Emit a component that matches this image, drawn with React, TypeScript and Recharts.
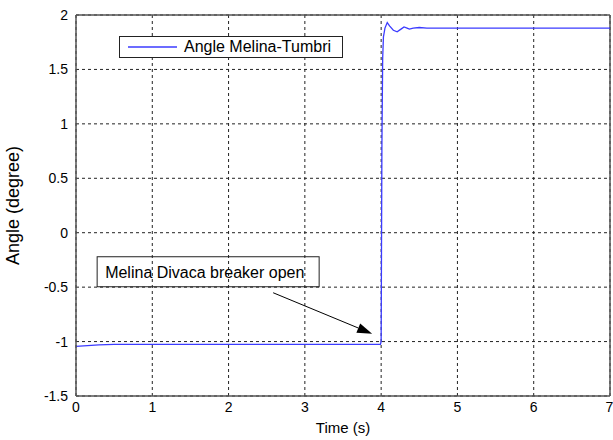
import { LineChart, Line, XAxis, YAxis, CartesianGrid, ReferenceLine, ReferenceDot, Label } from "recharts"

// time (s) and rotor angle (degree)
const TIME = [
  0, 0.1, 0.2, 0.3, 0.5, 1, 2, 3, 3.99, 4.0, 4.01, 4.02, 4.03, 4.05, 4.08, 4.11, 4.16, 4.21, 4.26, 4.3, 4.34,
  4.37, 4.42, 4.5, 4.6, 5, 6, 7,
]
const ANGLE = [
  -1.045, -1.04, -1.035, -1.03, -1.025, -1.025, -1.025, -1.025, -1.025, -1.0, 0.8, 1.6, 1.8, 1.88, 1.93, 1.9,
  1.86, 1.845, 1.87, 1.89, 1.88, 1.87, 1.88, 1.885, 1.88, 1.88, 1.88, 1.88,
]
const X_TICKS = [0, 1, 2, 3, 4, 5, 6, 7]
const Y_TICKS = [-1.5, -1, -0.5, 0, 0.5, 1, 1.5, 2]
const SERIES_NAME = "Angle Melina-Tumbri"
const NOTE = "Melina Divaca breaker open"
const BREAKER_T = 4
const BREAKER_ANGLE = -1.02

const data = TIME.map((t, i) => ({ t, angle: ANGLE[i] }))

const FONT = "'Liberation Sans', Arial, Helvetica, sans-serif"
const BLUE = "#3b3bff"
const FRAME = "#555"

function BreakerNote(p: any) {
  const { cx, cy } = p
  const x1 = cx - 108
  const y1 = cy - 51
  const x2 = cx - 9
  const y2 = cy - 10
  const a = Math.atan2(y2 - y1, x2 - x1)
  const len = 15
  const hw = 5
  const bx = x2 - len * Math.cos(a)
  const by = y2 - len * Math.sin(a)
  const pts = [
    `${x2},${y2}`,
    `${bx + hw * Math.sin(a)},${by - hw * Math.cos(a)}`,
    `${bx - hw * Math.sin(a)},${by + hw * Math.cos(a)}`,
  ].join(" ")
  return (
    <g>
      <rect x={cx - 284} y={cy - 87} width={222} height={30} fill="none" stroke="#222" strokeWidth={1} />
      <text x={cx - 276} y={cy - 66} fontSize={16} fill="#000" fontFamily={FONT}>
        {NOTE}
      </text>
      <line x1={x1} y1={y1} x2={bx} y2={by} stroke="#000" strokeWidth={1} />
      <polygon points={pts} fill="#000" />
    </g>
  )
}

export default function App() {
  return (
    <div
      style={{
        position: "fixed",
        left: 0,
        top: 0,
        width: 613,
        height: 440,
        background: "#fff",
        fontFamily: FONT,
      }}
    >
      <LineChart width={613} height={440} data={data} margin={{ top: 15, right: 3, left: 0, bottom: 0 }}>
        <CartesianGrid stroke="#222" strokeDasharray="3 3" />
        <XAxis
          dataKey="t"
          type="number"
          domain={[0, 7]}
          ticks={X_TICKS}
          height={44}
          tickLine={false}
          tickSize={3}
          tickMargin={3}
          axisLine={{ stroke: FRAME, strokeWidth: 1.5 }}
          tick={{ fill: "#000", fontSize: 14, fontFamily: FONT }}
        >
          <Label value="Time (s)" position="insideBottom" offset={7} style={{ fill: "#000", fontSize: 15, fontFamily: FONT }} />
        </XAxis>
        <YAxis
          type="number"
          domain={[-1.5, 2]}
          ticks={Y_TICKS}
          width={76}
          tickLine={false}
          tickSize={6}
          tickMargin={2}
          axisLine={{ stroke: FRAME, strokeWidth: 1.5 }}
          tick={{ fill: "#000", fontSize: 14, fontFamily: FONT }}
        >
          <Label
            value="Angle (degree)"
            angle={-90}
            position="insideLeft"
            offset={13}
            style={{ fill: "#000", fontSize: 18, fontFamily: FONT, textAnchor: "middle" }}
          />
        </YAxis>
        <ReferenceLine y={2} stroke={FRAME} strokeWidth={1.5} />
        <ReferenceLine x={7} stroke={FRAME} strokeWidth={1.5} />
        <Line
          dataKey="angle"
          type="linear"
          stroke={BLUE}
          strokeWidth={1.3}
          dot={false}
          isAnimationActive={false}
        />
        <ReferenceDot x={BREAKER_T} y={BREAKER_ANGLE} r={0} shape={BreakerNote} />
      </LineChart>
      <div
        style={{
          position: "absolute",
          left: 119,
          top: 36,
          width: 222,
          height: 20,
          border: "1px solid #222",
          background: "#fff",
          display: "flex",
          alignItems: "center",
          fontSize: 16,
          color: "#000",
        }}
      >
        <svg width={60} height={20} style={{ flex: "none" }}>
          <line x1={8} y1={10} x2={57} y2={10} stroke={BLUE} strokeWidth={1.3} />
        </svg>
        <span style={{ marginLeft: 4, whiteSpace: "nowrap" }}>{SERIES_NAME}</span>
      </div>
    </div>
  )
}
